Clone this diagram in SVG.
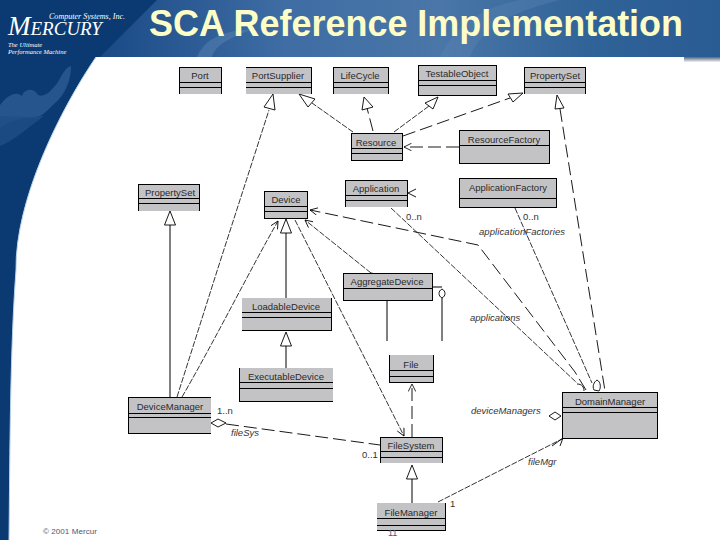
<svg xmlns="http://www.w3.org/2000/svg" width="720" height="540" viewBox="0 0 720 540">
<style>
.c{fill:#c3c3c6}
.e{fill:none;stroke:#000;stroke-width:1;shape-rendering:crispEdges}
.n{font:9.5px "Liberation Sans",Arial,sans-serif;fill:#2a2a2a;text-anchor:middle}
.l{font:italic 9.5px "Liberation Sans",Arial,sans-serif;fill:#333}
.m{font:9.5px "Liberation Sans",Arial,sans-serif;fill:#333}
.d{fill:none;stroke:#000;stroke-width:.9;stroke-dasharray:13 5}
.t{fill:none;stroke:#000;stroke-width:.8;stroke-dasharray:6 1.5}
.s{fill:none;stroke:#000;stroke-width:1}
.h{fill:#fff;stroke:#000;stroke-width:.9}
.a{fill:none;stroke:#000;stroke-width:.9}
</style>
<defs>
<linearGradient id="hd" x1="0" x2="1" y1="0" y2="0"><stop offset="0" stop-color="#1a4a86"/><stop offset=".3" stop-color="#3f6da4"/><stop offset=".55" stop-color="#4a76a8"/><stop offset=".8" stop-color="#2f6297"/><stop offset="1" stop-color="#2a5c94"/></linearGradient>
<linearGradient id="sh" x1="0" x2="0" y1="0" y2="1"><stop offset="0" stop-color="#54677e"/><stop offset="1" stop-color="#f2f2f2"/></linearGradient>
<marker id="o" viewBox="0 0 12 10" refX="11" refY="5" markerWidth="9" markerHeight="8" orient="auto" markerUnits="userSpaceOnUse"><path d="M1 0L11 5L1 10" fill="none" stroke="#000" stroke-width="1.1"/></marker>
</defs>
<rect width="720" height="540" fill="#fff"/>
<path d="M0 0H170V57H96C60 110 15 200 16 270C10 350 10 450 9 540H0Z" fill="#0b3a72"/>
<path d="M96 57C60 110 15 200 16 270C10 350 10 450 9 540" fill="none" stroke="#b7d3ea" stroke-width="1"/>
<path d="M157 0H720V57H100Z" fill="url(#hd)"/>
<path d="M440 57C455 25 480 8 520 0H560C510 12 480 30 470 57Z" fill="#5f88b5" opacity=".35"/>
<path d="M197 57C205 38 225 30 250 30C230 38 215 45 212 57Z" fill="#6a92bc" opacity=".35"/>
<rect x="684" y="57" width="36" height="5" fill="url(#sh)"/>
<path d="M0 105C10 92 18 92 22 96C24 89 33 87 38 95C45 98 52 90 58 82C62 75 65 68 71 66C71 80 65 95 55 103C45 112 42 118 30 118C20 118 8 122 0 128Z" fill="#2c5b92" opacity=".85"/>
<path d="M0 116C20 117 35 117 44 116C30 126 15 140 0 146Z" fill="#1f4d85" opacity=".8"/>
<g font-family="Liberation Serif,serif" fill="#fff" font-style="italic">
<text x="8" y="35"><tspan font-size="27">M</tspan><tspan font-size="19">ERCURY</tspan></text>
<text x="49" y="19" font-size="8" textLength="76" lengthAdjust="spacingAndGlyphs">Computer Systems, Inc.</text>
<text x="8" y="47" font-size="6.5">The Ultimate</text>
<text x="8" y="54" font-size="6.5">Performance Machine</text>
</g>
<text x="416" y="36" font-family="Liberation Sans,Arial,sans-serif" font-weight="700" font-size="36" fill="#fdfdc8" text-anchor="middle" textLength="534" lengthAdjust="spacingAndGlyphs">SCA Reference Implementation</text>
<text x="43" y="534" font-family="Liberation Sans,Arial,sans-serif" font-size="8" fill="#3d5a7a" textLength="54">© 2001 Mercur</text>
<g id="connectors">
<path class="s" d="M170 397V224"/><path class="h" d="M170 211L164.500 225H175.500Z"/>
<path class="t" d="M177 397L218 268L269 110"/><path class="h" d="M273 94L264 107L275 110Z"/>
<path class="t" d="M182 397C215 340 250 270 278 221" marker-end="url(#o)"/>
<path class="s" d="M286 298V233"/><path class="h" d="M286 219L280.500 233H291.500Z"/>
<path class="s" d="M286 368V346"/><path class="h" d="M286 332L280.500 346H291.500Z"/>
<path class="t" d="M295 220L404 436" marker-end="url(#o)"/>
<path class="t" d="M371 273L305 220" marker-start="url(#o)" marker-end="url(#o)"/>
<path class="d" d="M586 390L575 372L478 245L310 210" marker-end="url(#o)"/>
<path class="t" d="M353 132L312 103"/><path class="h" d="M299 94L308 107L315 99Z"/>
<path class="d" d="M373 131L367 108"/><path class="h" d="M364 97L362 110L373 107Z"/>
<path class="t" d="M394 132L429 106"/><path class="h" d="M438 97L425 103L433 109Z"/>
<path class="d" d="M403 136L510 98"/><path class="h" d="M523 93L508 94L513 102Z"/>
<path class="d" d="M459 147H404" marker-end="url(#o)"/>
<path class="a" d="M416 189L408 193L416 197"/>
<path class="t" d="M391 208L577 383"/>
<path class="t" d="M515 208L592 383"/>
<path class="d" d="M560 109L605 391"/><path class="h" d="M557 95L555 109L564 108Z"/>
<path class="a" d="M577 384C582 384 584 387 584 391"/>
<path class="h" d="M597 380C601 382 601 388 599 391L594 390C592 386 594 382 597 380Z"/>
<path class="s" d="M433 287H442M442 298V341M387 301V341"/>
<path class="h" d="M442 289C446 291 446 296 442 298C438 296 438 291 442 289Z"/>
<path class="d" d="M412 437V384" marker-end="url(#o)"/>
<path class="s" d="M412 503V479"/><path class="h" d="M412 465L406.500 479H417.500Z"/>
<path class="d" d="M226 424L380 445"/><path class="h" d="M211 423L218 419L226 423L218 427Z"/>
<path class="t" d="M438 502L562 439"/>
<path class="a" d="M552 446L563 438L560 446"/>
<path class="h" d="M549 416L555 412L561 416L555 420Z"/>
</g>
<g id="Port"><rect class="c" x="179" y="67" width="42" height="27"/><path class="e" d="M179 94V67H221V94M179 82H221M179 87H221"/><text class="n" x="200" y="79">Port</text></g>
<g id="PortSupplier"><rect class="c" x="246" y="67" width="65" height="27"/><path class="e" d="M246 67H311V94M246 82H311M246 87H311"/><text class="n" x="278" y="79">PortSupplier</text></g>
<g id="LifeCycle"><rect class="c" x="333" y="67" width="55" height="27"/><path class="e" d="M333 94V67H388V94M333 82H388M333 87H388"/><text class="n" x="360" y="79">LifeCycle</text></g>
<g id="TestableObject"><rect class="c" x="418" y="65" width="78" height="30"/><path class="e" d="M418 65H496V95H418ZM418 80H496M418 85H496"/><text class="n" x="457" y="77">TestableObject</text></g>
<g id="PropertySetTop"><rect class="c" x="524" y="67" width="61" height="27"/><path class="e" d="M524 94V67H585V94M524 82H585M524 87H585"/><text class="n" x="555" y="79">PropertySet</text></g>
<g id="Resource"><rect class="c" x="351" y="133" width="51" height="27"/><path class="e" d="M351 133H402V160H351ZM351 148H402M351 153H402"/><text class="n" x="376" y="146">Resource</text></g>
<g id="ResourceFactory"><rect class="c" x="459" y="130" width="90" height="33"/><path class="e" d="M459 130H549V163H459ZM459 145H549"/><text class="n" x="504" y="143">ResourceFactory</text></g>
<g id="Application"><rect class="c" x="345" y="180" width="62" height="27"/><path class="e" d="M345 207V180H407V207M345 195H407M345 200H407"/><text class="n" x="376" y="192">Application</text></g>
<g id="ApplicationFactory"><rect class="c" x="459" y="178" width="97" height="29"/><path class="e" d="M459 178H556V207H459ZM459 198H556"/><text class="n" x="508" y="191">ApplicationFactory</text></g>
<g id="PropertySetLeft"><rect class="c" x="138" y="184" width="61" height="27"/><path class="e" d="M138 211V184H199V211M138 198H199M138 203H199"/><text class="n" x="170" y="196">PropertySet</text></g>
<g id="Device"><rect class="c" x="264" y="191" width="43" height="27"/><path class="e" d="M264 191H307V218H264ZM264 206H307M264 211H307"/><text class="n" x="286" y="203">Device</text></g>
<g id="AggregateDevice"><rect class="c" x="343" y="273" width="89" height="27"/><path class="e" d="M343 273H432V300H343ZM343 288H432"/><text class="n" x="387" y="285">AggregateDevice</text></g>
<g id="LoadableDevice"><rect class="c" x="242" y="298" width="89" height="32"/><path class="e" d="M331 298V330H242M242 312H331M242 317H331"/><text class="n" x="286" y="310">LoadableDevice</text></g>
<g id="ExecutableDevice"><rect class="c" x="239" y="368" width="94" height="33"/><path class="e" d="M239 368V401H333M239 382H333M239 388H333"/><text class="n" x="286" y="380">ExecutableDevice</text></g>
<g id="DeviceManager"><rect class="c" x="128" y="397" width="83" height="36"/><path class="e" d="M211 397H128V433H211M128 413H211M128 417H211"/><text class="n" x="170" y="410">DeviceManager</text></g>
<g id="File"><rect class="c" x="389" y="355" width="44" height="27"/><path class="e" d="M389 355V382H433V355M389 370H433M389 376H433"/><text class="n" x="411" y="368">File</text></g>
<g id="FileSystem"><rect class="c" x="380" y="437" width="62" height="26"/><path class="e" d="M380 463V437H442V463M380 451H442M380 457H442"/><text class="n" x="411" y="449">FileSystem</text></g>
<g id="FileManager"><rect class="c" x="377" y="503" width="68" height="27"/><path class="e" d="M445 503V530H377M377 518H445M377 525H445"/><text class="n" x="411" y="516">FileManager</text></g>
<g id="DomainManager"><rect class="c" x="562" y="392" width="95" height="46"/><path class="e" d="M562 392H657V438H562ZM562 407H657M562 412H657"/><text class="n" x="610" y="405">DomainManager</text></g>
<text class="m" x="406" y="220">0..n</text>
<text class="m" x="523" y="220">0..n</text>
<text class="l" x="479" y="235" textLength="86">applicationFactories</text>
<text class="l" x="470" y="321">applications</text>
<text class="l" x="471" y="414">deviceManagers</text>
<text class="l" x="231" y="436">fileSys</text>
<text class="l" x="528" y="465">fileMgr</text>
<text class="m" x="217" y="414">1..n</text>
<text class="m" x="362" y="458">0..1</text>
<text class="m" x="450" y="507">1</text>
<text x="388" y="536" font-family="Liberation Sans,Arial,sans-serif" font-size="9" fill="#3d5a7a">11</text>
</svg>
